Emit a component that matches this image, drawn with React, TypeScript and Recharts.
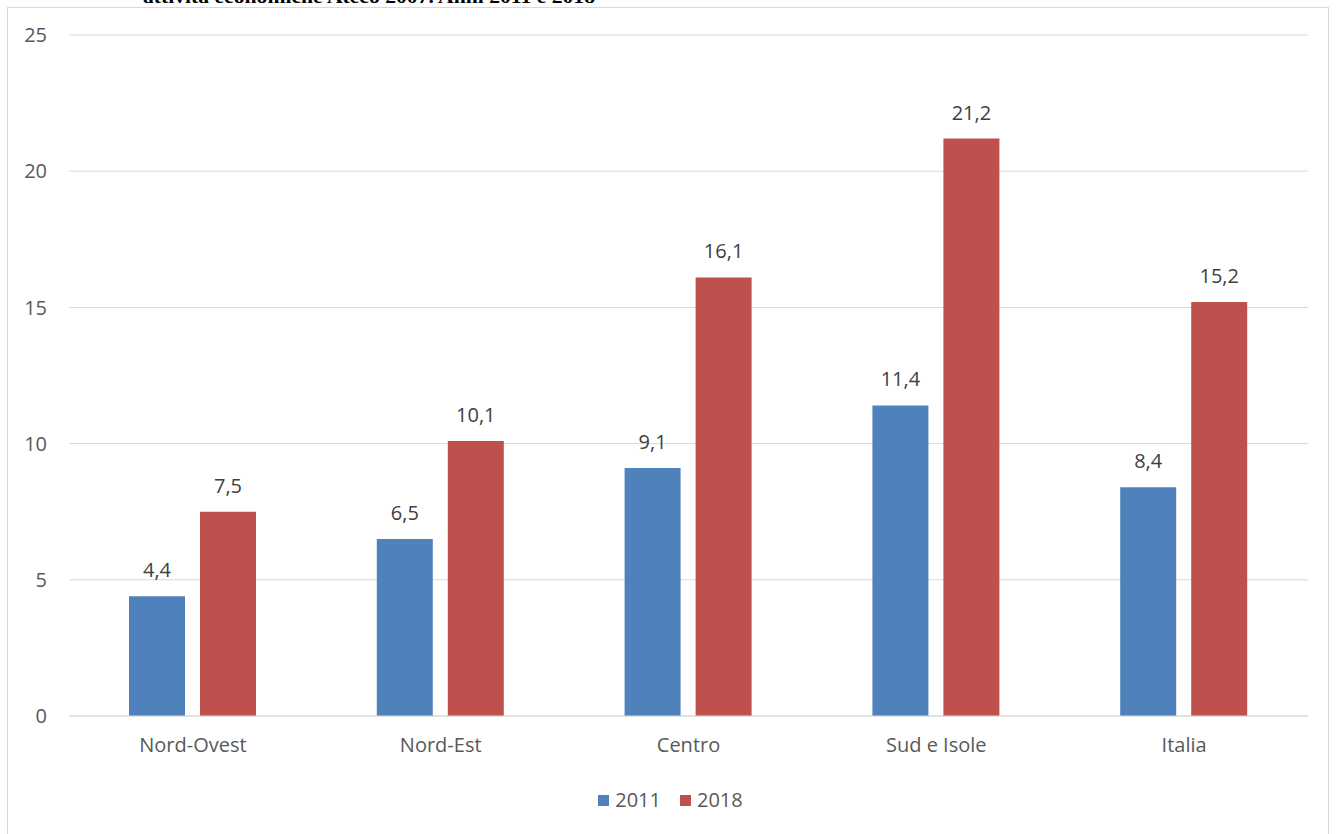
import React from "react";
import { BarChart, Bar, XAxis, YAxis, CartesianGrid, Legend, LabelList } from "recharts";

// Ripartizioni territoriali
const categories = ["Nord-Ovest", "Nord-Est", "Centro", "Sud e Isole", "Italia"];
const values2011 = [4.4, 6.5, 9.1, 11.4, 8.4];
const values2018 = [7.5, 10.1, 16.1, 21.2, 15.2];
const yTicks = [0, 5, 10, 15, 20, 25];
const seriesNames = ["2011", "2018"];
const titleText = "attività economiche Ateco 2007. Anni 2011 e 2018";

const data = categories.map((name, i) => ({
  name,
  v2011: values2011[i],
  v2018: values2018[i],
}));

const COLOR_2011 = "#4F81BD";
const COLOR_2018 = "#C0504D";
const FONT = "'Open Sans', 'Noto Sans', sans-serif";
const FONT_SIZE = 20;

const fmt = (v: any) => String(v).replace(".", ",");

const LegendContent = (props: any) => {
  const items = props.payload || [];
  return (
    <div style={{ display: "flex", justifyContent: "center", alignItems: "center", fontFamily: FONT, fontSize: FONT_SIZE, color: "#595959", lineHeight: "24px" }}>
      {items.map((it: any, i: number) => (
        <div key={i} style={{ display: "flex", alignItems: "center", marginRight: i < items.length - 1 ? 19 : 0 }}>
          <span style={{ display: "inline-block", width: 11, height: 11, background: it.color, marginRight: 6 }} />
          <span>{it.value}</span>
        </div>
      ))}
    </div>
  );
};

export default function App() {
  return (
    <div style={{ position: "absolute", left: 0, top: 0, width: 1341, height: 834, background: "#fff", overflow: "hidden" }}>
      <svg style={{ position: "absolute", left: 0, top: 0 }} width={1341} height={20}>
        <text
          x={143}
          y={3}
          textLength={452}
          lengthAdjust="spacingAndGlyphs"
          style={{ fontFamily: "'Liberation Serif', 'Times New Roman', serif", fontWeight: "bold", fontSize: 18, fill: "#000" }}
        >
          {titleText}
        </text>
      </svg>
      <div style={{ position: "absolute", left: 7, top: 7, width: 1322, height: 840, border: "1px solid #D9D9D9", boxSizing: "border-box" }} />
      <div style={{ position: "absolute", left: 0, top: 0 }}>
        <BarChart
          width={1341}
          height={834}
          data={data}
          margin={{ top: 35, right: 33, left: 9, bottom: 78 }}
          barGap={15}
          barSize={56}
        >
          <CartesianGrid vertical={false} stroke="#D9D9D9" strokeWidth={1} />
          <XAxis
            dataKey="name"
            height={40}
            tickLine={false}
            tickSize={0}
            tickMargin={22}
            axisLine={{ stroke: "#D9D9D9" }}
            tick={{ fill: "#595959", fontSize: FONT_SIZE, fontFamily: FONT }}
          />
          <YAxis
            width={60}
            domain={[0, 25]}
            ticks={yTicks}
            axisLine={false}
            tickLine={false}
            tickSize={0}
            tickMargin={22}
            tick={{ fill: "#595959", fontSize: FONT_SIZE, fontFamily: FONT }}
          />
          <Legend
            verticalAlign="middle"
            align="center"
            layout="horizontal"
            wrapperStyle={{ top: 788, left: 0, width: 1341 }}
            content={<LegendContent />}
          />
          <Bar dataKey="v2011" name={seriesNames[0]} fill={COLOR_2011} isAnimationActive={false}>
            <LabelList dataKey="v2011" position="top" offset={19} formatter={fmt} style={{ fill: "#404040", fontSize: FONT_SIZE, fontFamily: FONT }} />
          </Bar>
          <Bar dataKey="v2018" name={seriesNames[1]} fill={COLOR_2018} isAnimationActive={false}>
            <LabelList dataKey="v2018" position="top" offset={19} formatter={fmt} style={{ fill: "#404040", fontSize: FONT_SIZE, fontFamily: FONT }} />
          </Bar>
        </BarChart>
      </div>
    </div>
  );
}
